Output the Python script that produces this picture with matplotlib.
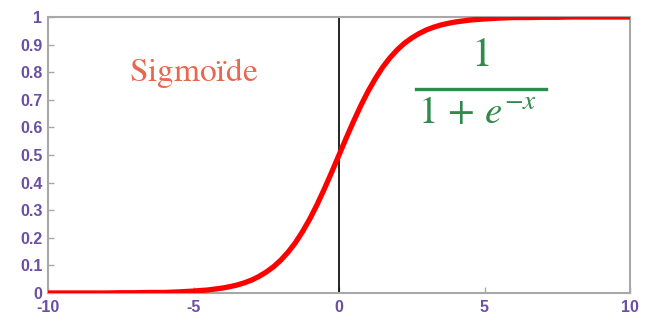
"""Sigmoid curve with formula annotation."""

import matplotlib

matplotlib.use("Agg")

import matplotlib.pyplot as plt
from matplotlib.lines import Line2D

# values
x_values = [
    -10, -9.5, -9, -8.5, -8, -7.5, -7, -6.5, -6, -5.5, -5, -4.5, -4, -3.75, -3.5,
    -3.25, -3, -2.75, -2.5, -2.25, -2, -1.75, -1.5, -1.25, -1, -0.75, -0.5, -0.25,
    0, 0.25, 0.5, 0.75, 1, 1.25, 1.5, 1.75, 2, 2.25, 2.5, 2.75, 3, 3.25, 3.5,
    3.75, 4, 4.5, 5, 5.5, 6, 6.5, 7, 7.5, 8, 8.5, 9, 9.5, 10,
]
y_values = [
    0.000, 0.000, 0.000, 0.000, 0.000, 0.001, 0.001, 0.002, 0.002, 0.004, 0.007,
    0.011, 0.018, 0.023, 0.029, 0.037, 0.047, 0.060, 0.076, 0.095, 0.119, 0.148,
    0.182, 0.223, 0.269, 0.321, 0.378, 0.438, 0.500, 0.562, 0.622, 0.679, 0.731,
    0.777, 0.818, 0.852, 0.881, 0.905, 0.924, 0.940, 0.953, 0.963, 0.971, 0.977,
    0.982, 0.989, 0.993, 0.996, 0.998, 0.998, 0.999, 0.999, 1.000, 1.000, 1.000,
    1.000, 1.000,
]
x_ticks = [-10, -5, 0, 5, 10]
y_ticks = [0, 0.1, 0.2, 0.3, 0.4, 0.5, 0.6, 0.7, 0.8, 0.9, 1]
y_tick_labels = ["0", "0.1", "0.2", "0.3", "0.4", "0.5", "0.6", "0.7", "0.8", "0.9", "1"]

TICK_COLOR = "#6a4fa3"
SPINE_COLOR = "#a8a8a8"
GREEN = "#2f8a4c"

plt.rcParams["mathtext.fontset"] = "stix"
plt.rcParams["axes.unicode_minus"] = False

fig = plt.figure(figsize=(6.5, 3.21), dpi=100)
ax = fig.add_axes([48 / 650, 1 - 293 / 321, (630 - 48) / 650, (293 - 17) / 321])

ax.plot(x_values, y_values, color="#ff0000", linewidth=3.8,
        solid_capstyle="butt", solid_joinstyle="round", zorder=3)
ax.plot([0, 0], [0, 1], color="black", linewidth=1.2, zorder=2)

ax.set_xlim(-10, 10)
ax.set_ylim(0, 1)
ax.set_xticks(x_ticks)
ax.set_yticks(y_ticks)
ax.set_yticklabels(y_tick_labels)
ax.tick_params(direction="in", length=4, width=1, color=SPINE_COLOR,
               labelcolor=TICK_COLOR, labelsize=11.5)
ax.tick_params(axis="y", pad=4)
ax.tick_params(axis="x", pad=5)
for label in ax.get_xticklabels() + ax.get_yticklabels():
    label.set_fontfamily("Liberation Sans")
    label.set_fontweight("bold")
for spine in ax.spines.values():
    spine.set_color(SPINE_COLOR)
    spine.set_linewidth(1.5)

# title word in a Times-like face (stix via mathtext)
fig.text(194 / 650, 1 - 81 / 321, "$\\mathrm{Sigmoïde}$", fontsize=24,
         color="#e8674f", ha="center", va="baseline")

# formula 1 / (1 + e^-x)
fig.text(480 / 650, 1 - 54 / 321, "$1$", fontsize=30, color=GREEN,
         ha="center", va="center")
fig.add_artist(Line2D([416 / 650, 546 / 650], [1 - 89 / 321, 1 - 89 / 321],
                      color=GREEN, linewidth=2.4, transform=fig.transFigure))
fig.text(478 / 650, 1 - 112 / 321, "$1\\,+\\,e^{-x}$", fontsize=28, color=GREEN,
         ha="center", va="center")

fig.savefig("out.png", dpi=100)
plt.close(fig)
